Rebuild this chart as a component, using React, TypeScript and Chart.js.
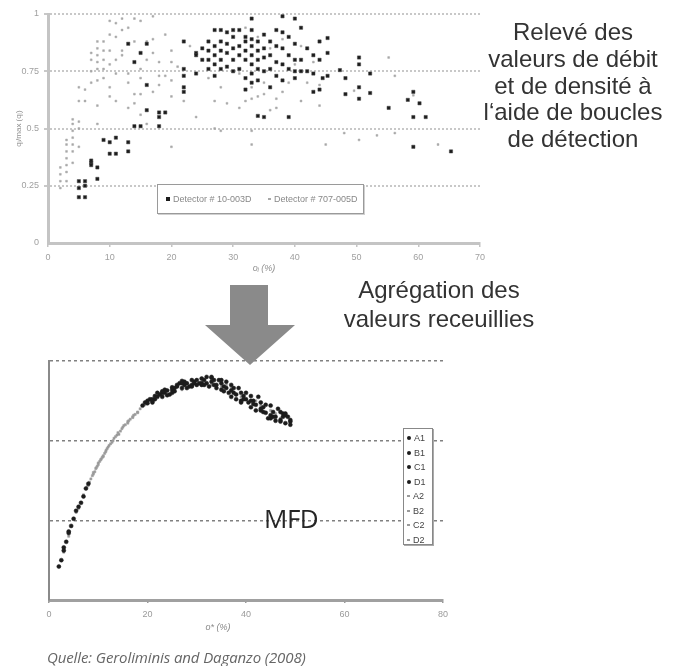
import React, { useEffect, useRef } from "react";
import { Chart, registerables } from "chart.js";

Chart.register(...registerables);

// ---------- Top chart: detector measurements ----------
const topXTicks = [0, 10, 20, 30, 40, 50, 60, 70];
const topYTicks = [0, 0.25, 0.5, 0.75, 1];
const topXTitle = "oᵢ (%)";
const topYTitle = "qᵢ/max (qᵢ)";
const topLegendLabels = ["Detector # 10-003D", "Detector # 707-005D"];

const detector10003D: [number, number][] = [
  [5, 0.27], [5, 0.24], [5, 0.2], [6, 0.27], [6, 0.2], [6, 0.25],
  [7, 0.35], [7, 0.34], [7, 0.36], [8, 0.33], [8, 0.28],
  [9, 0.45], [10, 0.44], [11, 0.46], [10, 0.39], [11, 0.39], [13, 0.44], [13, 0.4],
  [14, 0.51], [15, 0.51], [18, 0.51], [18, 0.55], [16, 0.58], [18, 0.57], [19, 0.57],
  [14, 0.79], [15, 0.83], [16, 0.69], [16, 0.87], [13, 0.87],
  [22, 0.88], [22, 0.76], [22, 0.68], [22, 0.66], [22, 0.73],
  [24, 0.83], [24, 0.82], [24, 0.74], [25, 0.85], [25, 0.8],
  [26, 0.88], [26, 0.84], [26, 0.8], [26, 0.76],
  [27, 0.93], [27, 0.86], [27, 0.82], [27, 0.78], [27, 0.73],
  [28, 0.93], [28, 0.88], [28, 0.84], [28, 0.8], [28, 0.76],
  [29, 0.92], [29, 0.87], [29, 0.83], [29, 0.77],
  [30, 0.93], [30, 0.9], [30, 0.85], [30, 0.8], [30, 0.75],
  [31, 0.93], [31, 0.86], [31, 0.82], [31, 0.76],
  [32, 0.9], [32, 0.88], [32, 0.84], [32, 0.8], [32, 0.72], [32, 0.67],
  [33, 0.93], [33, 0.89], [33, 0.86], [33, 0.82], [33, 0.78], [33, 0.74], [33, 0.7], [33, 0.98],
  [34, 0.88], [34, 0.84], [34, 0.8], [34, 0.76], [34, 0.71], [34, 0.555],
  [35, 0.91], [35, 0.85], [35, 0.81], [35, 0.75], [35, 0.55],
  [36, 0.88], [36, 0.82], [36, 0.76], [36, 0.68],
  [37, 0.93], [37, 0.86], [37, 0.79], [37, 0.73],
  [38, 0.99], [38, 0.92], [38, 0.85], [38, 0.78], [38, 0.71],
  [39, 0.9], [39, 0.82], [39, 0.76], [39, 0.55],
  [40, 0.98], [40, 0.87], [40, 0.8], [40, 0.75], [40, 0.72],
  [41, 0.94], [41, 0.8], [41, 0.75], [42, 0.85], [42, 0.75],
  [43, 0.82], [43, 0.74], [43, 0.66], [44, 0.8], [44, 0.88], [44, 0.67], [44.5, 0.72],
  [45.3, 0.895], [45.3, 0.83], [45.3, 0.73], [47.3, 0.755], [48.2, 0.72], [48.2, 0.65],
  [50.4, 0.68], [50.4, 0.63], [52.2, 0.655], [52.2, 0.74], [50.4, 0.81], [50.4, 0.78],
  [55.2, 0.59], [58.3, 0.625], [59.2, 0.66], [60.2, 0.61], [59.2, 0.55], [61.2, 0.55],
  [59.2, 0.42], [65.3, 0.4],
];

const detector707005D: [number, number][] = [
  [2, 0.24], [2, 0.27], [2, 0.3], [2, 0.33],
  [3, 0.27], [3, 0.31], [3, 0.34], [3, 0.37], [3, 0.4], [3, 0.43], [3, 0.45],
  [4, 0.35], [4, 0.4], [4, 0.43], [4, 0.46], [4, 0.49], [4, 0.52], [4, 0.54],
  [5, 0.42], [5, 0.5], [5, 0.53], [5, 0.62], [5, 0.68], [6, 0.62], [6, 0.67],
  [7, 0.7], [7, 0.75], [7, 0.8], [7, 0.83],
  [8, 0.52], [8, 0.6], [8, 0.71], [8, 0.76], [8, 0.79], [8, 0.82], [8, 0.85], [8, 0.88],
  [9, 0.72], [9, 0.76], [9, 0.8], [9, 0.84], [9, 0.88],
  [10, 0.64], [10, 0.68], [10, 0.78], [10, 0.84], [10, 0.91], [10, 0.97],
  [11, 0.62], [11, 0.74], [11, 0.8], [11, 0.9], [11, 0.96],
  [12, 0.82], [12, 0.84], [12, 0.93], [12, 0.98],
  [13, 0.59], [13, 0.7], [13, 0.74], [13, 0.94],
  [14, 0.61], [14, 0.65], [14, 0.88], [14, 0.98],
  [15, 0.56], [15, 0.65], [15, 0.72], [15, 0.76], [15, 0.97],
  [16, 0.52], [16, 0.8], [16, 0.88], [17, 0.66], [17, 0.83], [17, 0.89], [17, 0.99],
  [18, 0.69], [18, 0.73], [18, 0.79], [19, 0.73], [19, 0.91],
  [20, 0.42], [20, 0.64], [20, 0.71], [20, 0.79], [20, 0.84],
  [21, 0.77], [22, 0.62], [23, 0.86], [24, 0.55], [25, 0.8], [26, 0.72], [27, 0.62], [27, 0.5],
  [28, 0.49], [28, 0.68], [29, 0.61], [30, 0.8], [31, 0.59], [31, 0.74], [32, 0.62], [32, 0.94],
  [33, 0.63], [33, 0.68], [33, 0.43], [33, 0.49], [34, 0.64], [34, 0.9], [35, 0.65], [35, 0.7],
  [36, 0.58], [36, 0.85], [37, 0.63], [37, 0.59], [38, 0.66], [38, 0.89], [39, 0.7], [40, 0.78],
  [41, 0.62], [41, 0.86], [42, 0.7], [43, 0.79], [44, 0.69], [44, 0.6], [45, 0.43], [48, 0.48],
  [49.6, 0.665], [50.4, 0.45], [53.3, 0.47], [55.2, 0.81], [56.2, 0.73], [56.2, 0.48],
  [59.2, 0.645], [63.2, 0.43],
];

// ---------- Bottom chart: MFD ----------
const mfdXTicks = [0, 20, 40, 60, 80];
const mfdYGrid = [0, 1, 2, 3];
const mfdXTitle = "o* (%)";
const mfdLabels = ["A1", "B1", "C1", "D1", "A2", "B2", "C2", "D2"];

const seriesA1: [number, number][] = [
  [2, 0.42], [3, 0.62], [4, 0.84], [20, 2.47], [22, 2.55], [24, 2.63], [26, 2.68], [28, 2.72],
  [30, 2.76], [32, 2.72], [34, 2.7], [36, 2.66], [38, 2.58], [40, 2.52], [42, 2.45], [44, 2.35],
  [46, 2.3], [48, 2.22],
  [21, 2.5], [23, 2.62], [25, 2.6], [27, 2.75], [29, 2.68], [31, 2.72], [33, 2.8], [35, 2.76],
  [37, 2.7], [39, 2.48], [41, 2.5], [43, 2.4], [45, 2.28], [47, 2.26], [49, 2.2],
];
const seriesB1: [number, number][] = [
  [5, 1.02], [6, 1.17], [7, 1.3], [19, 2.44], [21, 2.52], [23, 2.6], [25, 2.64], [27, 2.72],
  [29, 2.7], [31, 2.78], [33, 2.74], [35, 2.64], [37, 2.63], [39, 2.6], [41, 2.42], [43, 2.48],
  [45, 2.32], [47, 2.36], [49, 2.26],
  [20, 2.5], [22, 2.6], [24, 2.57], [26, 2.7], [28, 2.66], [30, 2.7], [32, 2.8], [34, 2.66],
  [36, 2.74], [38, 2.52], [40, 2.6], [42, 2.38], [44, 2.45], [46, 2.25], [48, 2.34],
];
const seriesC1: [number, number][] = [
  [2.5, 0.5], [3.5, 0.73], [4.5, 0.93], [21, 2.48], [23, 2.55], [25, 2.67], [27, 2.66], [29, 2.76],
  [31, 2.7], [33, 2.79], [35, 2.72], [37, 2.55], [39, 2.5], [41, 2.56], [43, 2.38], [45, 2.44],
  [47, 2.24], [48.5, 2.3],
  [19.5, 2.48], [21.5, 2.56], [23.5, 2.64], [25.5, 2.66], [27.5, 2.7], [29.5, 2.72], [31.5, 2.76],
  [33.5, 2.7], [35.5, 2.62], [37.5, 2.6], [39.5, 2.56], [41.5, 2.46], [43.5, 2.42], [45.5, 2.36],
  [47.5, 2.3],
];
const seriesD1: [number, number][] = [
  [6.5, 1.22], [7.5, 1.4], [8, 1.46], [20.5, 2.52], [22.5, 2.58], [24.5, 2.58], [26.5, 2.72],
  [28.5, 2.68], [30.5, 2.72], [32.5, 2.68], [34.5, 2.76], [36.5, 2.6], [38.5, 2.66], [40.5, 2.48],
  [42.5, 2.55], [44.5, 2.28], [46.5, 2.4], [48, 2.32],
  [5.5, 1.12], [4, 0.86], [3, 0.66], [21.5, 2.52], [23.5, 2.6], [25.5, 2.62], [27.5, 2.74],
  [29.5, 2.74], [31.5, 2.7], [33.5, 2.76], [35.5, 2.68], [37.5, 2.66], [39.5, 2.52], [41.5, 2.5],
  [43.5, 2.36], [45.5, 2.3], [47.5, 2.34], [49, 2.24],
];
const seriesA2: [number, number][] = [
  [8.5, 1.52], [9, 1.58], [9.5, 1.65], [10, 1.7], [10.5, 1.76], [11, 1.81], [11.5, 1.86], [12, 1.92],
  [13, 2.0], [14, 2.1], [15, 2.17], [16, 2.24], [17, 2.3], [18, 2.36], [30, 2.7], [36, 2.7],
  [42, 2.5], [46, 2.34],
];
const seriesB2: [number, number][] = [
  [8.2, 1.48], [8.8, 1.56], [9.3, 1.61], [9.8, 1.68], [10.3, 1.74], [10.8, 1.79], [11.3, 1.84],
  [11.8, 1.9], [12.5, 1.96], [13.5, 2.05], [14.5, 2.12], [15.5, 2.2], [16.5, 2.27], [17.5, 2.33],
  [27, 2.64], [33, 2.7], [39, 2.55], [45, 2.38],
];
const seriesC2: [number, number][] = [
  [7, 1.32], [7.8, 1.43], [9, 1.6], [10, 1.72], [11, 1.8], [12.2, 1.94], [13.2, 2.03], [14.2, 2.08],
  [15.2, 2.19], [16.2, 2.25], [17.2, 2.32], [18.5, 2.4], [19.5, 2.45], [25, 2.6], [31, 2.74],
  [37, 2.66], [43, 2.44], [47, 2.28],
];
const seriesD2: [number, number][] = [
  [3, 0.6], [4, 0.8], [5.5, 1.1], [6, 1.15], [8, 1.44], [9.6, 1.66], [10.6, 1.77], [11.6, 1.88],
  [12.8, 1.98], [13.8, 2.07], [14.8, 2.15], [16, 2.22], [17, 2.29], [18, 2.35], [23, 2.57],
  [29, 2.68], [35, 2.68], [41, 2.5],
];
const mfdSeries = [seriesA1, seriesB1, seriesC1, seriesD1, seriesA2, seriesB2, seriesC2, seriesD2];

const annotationTop = ["Relevé des", "valeurs de débit", "et de densité à", "l‘aide de boucles", "de détection"];
const annotationMid = ["Agrégation des", "valeurs receuillies"];
const mfdText = "MFD";
const sourceText = "Quelle: Geroliminis and Daganzo (2008)";

const toXY = (arr: [number, number][]) => arr.map(([x, y]) => ({ x, y }));

const BLACK = "#1c1c1c";
const GREY = "#a8a8a8";

export default function App() {
  const topRef = useRef<HTMLCanvasElement | null>(null);
  const botRef = useRef<HTMLCanvasElement | null>(null);

  useEffect(() => {
    const tickFont = { family: "'Liberation Sans', Arial, sans-serif", size: 9 };
    const top = new Chart(topRef.current!, {
      type: "scatter",
      data: {
        datasets: [
          {
            label: topLegendLabels[0],
            data: toXY(detector10003D),
            pointStyle: "rect",
            pointRadius: 2.3,
            backgroundColor: BLACK,
            borderColor: "#444",
            borderWidth: 0.5,
            clip: false as any,
          },
          {
            label: topLegendLabels[1],
            data: toXY(detector707005D),
            pointStyle: "rect",
            pointRadius: 1.3,
            backgroundColor: GREY,
            borderColor: GREY,
            borderWidth: 0.5,
            clip: false as any,
          },
        ],
      },
      options: {
        animation: false,
        responsive: false,
        layout: { padding: { top: 14, right: 5, left: 0, bottom: 0 } },
        plugins: { legend: { display: false }, tooltip: { enabled: false } },
        scales: {
          x: {
            type: "linear",
            min: topXTicks[0],
            max: topXTicks[topXTicks.length - 1],
            afterBuildTicks: (axis: any) => {
              axis.ticks = topXTicks.map((v) => ({ value: v }));
            },
            afterFit: (axis: any) => {
              axis.height = 37;
            },
            ticks: { font: tickFont, color: "#a0a0a0", padding: 5, maxRotation: 0, autoSkip: false },
            grid: { drawOnChartArea: false, drawTicks: true, tickLength: 4, color: "#c4c4c4", lineWidth: 1.5 },
            border: { color: "#c4c4c4", width: 3 },
            title: {
              display: true,
              text: topXTitle,
              font: { family: "'Liberation Sans', Arial, sans-serif", size: 9, style: "italic" },
              color: "#909090",
              padding: { top: 0, bottom: 6 },
            },
          },
          y: {
            type: "linear",
            min: topYTicks[0],
            max: topYTicks[topYTicks.length - 1],
            afterBuildTicks: (axis: any) => {
              axis.ticks = topYTicks.map((v) => ({ value: v }));
            },
            afterFit: (axis: any) => {
              axis.width = 48;
            },
            ticks: { font: tickFont, color: "#a0a0a0", padding: 5, autoSkip: false, callback: (v: any) => String(v) },
            grid: {
              drawTicks: true,
              tickLength: 4,
              color: (ctx: any) => (ctx.tick && ctx.tick.value === 0 ? "rgba(0,0,0,0)" : "#c8c8c8"),
              lineWidth: 2,
            },
            border: { color: "#c4c4c4", width: 3, dash: [2, 2] },
            title: {
              display: true,
              text: topYTitle,
              font: { family: "'Liberation Sans', Arial, sans-serif", size: 8 },
              color: "#909090",
              padding: { top: 14, bottom: 0 },
            },
          },
        },
      },
    });

    const blackStyles = { pointStyle: "circle", pointRadius: 2, backgroundColor: BLACK, borderColor: BLACK, borderWidth: 0.5 };
    const greyStyles = { pointStyle: "rect", pointRadius: 1.5, backgroundColor: "#9a9a9a", borderColor: "#9a9a9a", borderWidth: 0.5 };
    const bottom = new Chart(botRef.current!, {
      type: "scatter",
      data: {
        datasets: mfdSeries.map((s, i) => ({
          label: mfdLabels[i],
          data: toXY(s),
          ...(i < 4 ? blackStyles : greyStyles),
          clip: false as any,
        })) as any,
      },
      options: {
        animation: false,
        responsive: false,
        layout: { padding: { top: 21, right: 17, left: 0, bottom: 0 } },
        plugins: { legend: { display: false }, tooltip: { enabled: false } },
        scales: {
          x: {
            type: "linear",
            min: mfdXTicks[0],
            max: mfdXTicks[mfdXTicks.length - 1],
            afterBuildTicks: (axis: any) => {
              axis.ticks = mfdXTicks.map((v) => ({ value: v }));
            },
            afterFit: (axis: any) => {
              axis.height = 40;
            },
            ticks: { font: tickFont, color: "#9a9a9a", padding: 6, maxRotation: 0, autoSkip: false },
            grid: { drawOnChartArea: false, drawTicks: true, tickLength: 3, color: "#999", lineWidth: 1.5 },
            border: { color: "#a0a0a0", width: 3 },
          },
          y: {
            type: "linear",
            min: mfdYGrid[0],
            max: mfdYGrid[mfdYGrid.length - 1],
            afterBuildTicks: (axis: any) => {
              axis.ticks = mfdYGrid.map((v) => ({ value: v }));
            },
            afterFit: (axis: any) => {
              axis.width = 49;
            },
            ticks: { display: false },
            grid: {
              drawTicks: false,
              color: (ctx: any) => (ctx.tick && ctx.tick.value === 0 ? "rgba(0,0,0,0)" : "#808080"),
              lineWidth: 1.5,
            },
            border: { color: "#8a8a8a", width: 2, dash: [3, 3] },
          },
        },
      },
    });

    return () => {
      top.destroy();
      bottom.destroy();
    };
  }, []);

  const legendFont = "'Liberation Sans', Arial, sans-serif";

  return (
    <div
      style={{
        position: "absolute",
        left: 0,
        top: 0,
        width: 678,
        height: 666,
        overflow: "hidden",
        background: "#fff",
        fontFamily: legendFont,
      }}
    >
      <canvas ref={topRef} width={490} height={280} style={{ position: "absolute", left: 0, top: 0 }} />
      <canvas ref={botRef} width={460} height={300} style={{ position: "absolute", left: 0, top: 340 }} />

      {/* top legend */}
      <div
        style={{
          position: "absolute",
          left: 157,
          top: 184,
          width: 205,
          height: 28,
          border: "1px solid #9a9a9a",
          boxShadow: "1px 1px 0 #d0d0d0",
          background: "#fff",
          fontSize: 9,
          color: "#888",
          whiteSpace: "nowrap",
        }}
      >
        {topLegendLabels.map((l, i) => (
          <div key={l} style={{ position: "absolute", left: i === 0 ? 8 : 110, top: 9, display: "flex", alignItems: "center" }}>
            <span
              style={{
                display: "inline-block",
                width: i === 0 ? 4 : 3,
                height: i === 0 ? 4 : 2,
                background: i === 0 ? BLACK : GREY,
                marginRight: 3,
              }}
            />
            <span>{l}</span>
          </div>
        ))}
      </div>

      {/* bottom legend */}
      <div
        style={{
          position: "absolute",
          left: 403,
          top: 428,
          width: 28,
          height: 115,
          border: "1px solid #888",
          boxShadow: "1px 1px 0 #aaa",
          background: "#fff",
          fontSize: 9,
          color: "#444",
        }}
      >
        {mfdLabels.map((l, i) => (
          <div
            key={l}
            style={{ position: "absolute", left: 3, top: 3 + i * 14.5, height: 12, display: "flex", alignItems: "center" }}
          >
            <span
              style={{
                display: "inline-block",
                width: i < 4 ? 4 : 3,
                height: i < 4 ? 4 : 2,
                borderRadius: i < 4 ? 2 : 0,
                background: i < 4 ? BLACK : "#9a9a9a",
                marginRight: 3,
              }}
            />
            <span>{l}</span>
          </div>
        ))}
      </div>

      {/* bottom x-axis title */}
      <div
        style={{
          position: "absolute",
          left: 178,
          width: 80,
          top: 622,
          textAlign: "center",
          fontSize: 9,
          color: "#8a8a8a",
          fontStyle: "italic",
        }}
      >
        {mfdXTitle}
      </div>

      {/* arrow */}
      <svg width={100} height={90} style={{ position: "absolute", left: 200, top: 280 }}>
        <polygon points="30,5 68,5 68,45 95,45 50,85 5,45 30,45" fill="#8a8a8a" />
      </svg>

      {/* annotations */}
      <div
        style={{
          position: "absolute",
          left: 463,
          width: 220,
          top: 19,
          textAlign: "center",
          fontSize: 24,
          lineHeight: "26.75px",
          color: "#333",
          fontFamily: "'Liberation Sans', Arial, sans-serif",
        }}
      >
        {annotationTop.map((t) => (
          <div key={t}>{t}</div>
        ))}
      </div>
      <div
        style={{
          position: "absolute",
          left: 329,
          width: 220,
          top: 275,
          textAlign: "center",
          fontSize: 24,
          lineHeight: "29px",
          color: "#333",
          fontFamily: "'Liberation Sans', Arial, sans-serif",
        }}
      >
        {annotationMid.map((t) => (
          <div key={t}>{t}</div>
        ))}
      </div>

      <div
        style={{
          position: "absolute",
          left: 264,
          top: 501,
          fontSize: 26,
          lineHeight: "34px",
          color: "#262626",
          fontFamily: "'Open Sans', sans-serif",
          letterSpacing: "-0.5px",
        }}
      >
        {mfdText}
      </div>

      <div
        style={{
          position: "absolute",
          left: 47,
          top: 647,
          fontSize: 15,
          lineHeight: "20px",
          color: "#666",
          fontStyle: "italic",
          fontFamily: "'Open Sans', sans-serif",
          letterSpacing: "-0.1px",
          whiteSpace: "nowrap",
        }}
      >
        {sourceText}
      </div>
    </div>
  );
}
